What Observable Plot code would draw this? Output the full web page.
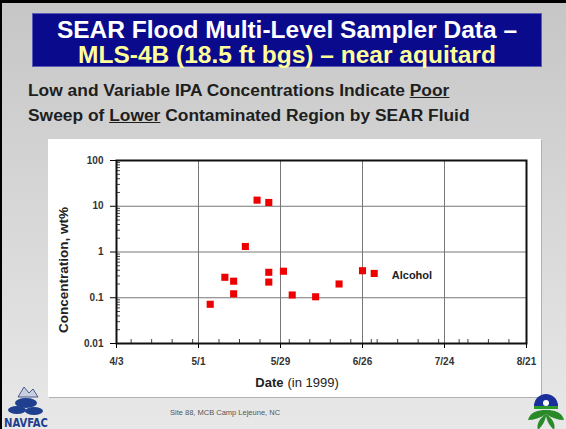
<!DOCTYPE html>
<html>
<head>
<meta charset="utf-8">
<script src="https://cdn.jsdelivr.net/npm/d3@7"></script>
<script src="https://cdn.jsdelivr.net/npm/@observablehq/plot@0.6"></script>
<style>
  html, body { margin: 0; padding: 0; }
  body { width: 566px; height: 429px; overflow: hidden; font-family: "Liberation Sans", Arial, sans-serif; }
  #slide { position: relative; width: 566px; height: 429px; box-sizing: border-box;
    border-top: 3px solid #000; border-left: 2px solid #000;
    background: linear-gradient(180deg, #c6c6c6 0%, #d4d4d4 40%, #e8e8e8 100%); }
  #banner { position: absolute; left: 30px; top: 10px; width: 510px; height: 54px; box-sizing: border-box;
    background: #0a0a8c; border: 1px solid #5a5ab8; text-align: center; }
  #banner div { font-weight: bold; font-size: 24.5px; line-height: 25px; white-space: nowrap; }
  #t1 { color: #ffffff; margin-top: 3px; }
  #t2 { color: #ffff99; }
  #sub { position: absolute; left: 26px; top: 75px; font-size: 17.4px; font-weight: bold; line-height: 25px; color: #1e1e1e; white-space: nowrap; }
  #panel { position: absolute; left: 46px; top: 136px; width: 493px; height: 258px; background: #fff;
    box-shadow: 1px 1px 0 #b0b0b0; }
  #footer { position: absolute; left: 168px; top: 405px; font-size: 7.5px; color: #555; }
  #navfac { position: absolute; left: 0px; top: 380px; }
  #epa { position: absolute; left: 522px; top: 389px; }
</style>
</head>
<body>
<div id="slide">
  <div id="banner">
    <div id="t1">SEAR Flood Multi-Level Sampler Data –</div>
    <div id="t2">MLS-4B (18.5 ft bgs) – near aquitard</div>
  </div>
  <div id="sub">Low and Variable IPA Concentrations Indicate <u>Poor</u><br>Sweep of <u>Lower</u> Contaminated Region by SEAR Fluid</div>
  <div id="panel"></div>
  <div id="footer">Site 88, MCB Camp Lejeune, NC</div>
  <svg id="navfac" width="48" height="46">
    <path d="M16,14 L22,4 L27,10 L31,6 L36,14 Z" fill="#c8d0e0" stroke="#4a5a8a" stroke-width="1"/>
    <ellipse cx="24" cy="20" rx="11" ry="5" fill="#1f3f8f"/>
    <ellipse cx="15" cy="27" rx="9" ry="4" fill="#1f3f8f"/>
    <ellipse cx="32" cy="28" rx="9" ry="4" fill="#1f3f8f"/>
    <text x="24" y="44" text-anchor="middle" font-family="'Liberation Sans Narrow', 'DejaVu Sans Condensed', sans-serif" font-weight="bold" font-size="12" fill="#1f3f8f" textLength="44" lengthAdjust="spacingAndGlyphs">NAVFAC</text>
  </svg>
  <svg id="epa" width="44" height="40">
    <path d="M10,14 A12,12 0 0 1 34,14 Z" fill="#1a2f9a"/>
    <circle cx="22" cy="11" r="3" fill="#fff"/>
    <rect x="10" y="14" width="24" height="3" fill="#2a9a2a"/>
    <path d="M22,18 C14,18 6,20 4,28 C10,28 16,26 22,22 Z" fill="#2a8a2a"/>
    <path d="M22,18 C30,18 38,20 40,28 C34,28 28,26 22,22 Z" fill="#2a8a2a"/>
    <path d="M22,22 C16,26 12,32 14,38 C18,34 21,30 22,24 Z" fill="#2a8a2a"/>
    <path d="M22,22 C28,26 32,32 30,38 C26,34 23,30 22,24 Z" fill="#2a8a2a"/>
  </svg>
</div>
<script>
// ---- data ----
const sampleDates = ["1999-05-05","1999-05-10","1999-05-13","1999-05-13","1999-05-17","1999-05-21","1999-05-25","1999-05-25","1999-05-25","1999-05-30","1999-06-02","1999-06-10","1999-06-18","1999-06-26","1999-06-30"];
const ipaConc = [0.072,0.28,0.23,0.122,1.32,13.6,12.1,0.36,0.22,0.38,0.115,0.105,0.20,0.39,0.34];
const xTickDates = ["1999-04-03","1999-05-01","1999-05-29","1999-06-26","1999-07-24","1999-08-21"];
const xTickLabels = ["4/3","5/1","5/29","6/26","7/24","8/21"];
const yTickValues = [0.01,0.1,1,10,100];
const yTickLabels = ["0.01","0.1","1","10","100"];
const seriesName = "Alcohol";
const seriesLabelDate = "1999-07-06";
const seriesLabelValue = 0.3;
const yTitle = "Concentration, wt%";
const xTitleBold = "Date";
const xTitleRest = "(in 1999)";

// ---- build ----
const parse = d3.utcParse("%Y-%m-%d");
const data = sampleDates.map((d, i) => ({date: parse(d), value: ipaConc[i]}));
const xTicks = xTickDates.map(parse);
const xMinor = d3.utcDay.every(7).range(xTicks[0], xTicks[xTicks.length - 1]).filter(d => !xTicks.some(t => +t === +d));
const yMinor = [];
for (let k = 0; k < yTickValues.length - 1; k++) for (let m = 2; m <= 9; m++) yMinor.push(yTickValues[k] * m);

const W = 493, H = 258, mL = 68, mR = 15, mT = 21, mB = 54;
const frameW = W - mL - mR, frameH = H - mT - mB;
const fam = "'Liberation Sans', Arial, sans-serif";

const chart = Plot.plot({
  width: W, height: H,
  marginLeft: mL, marginRight: mR, marginTop: mT, marginBottom: mB,
  style: {background: "transparent", fontFamily: fam, fontSize: "10px", overflow: "visible"},
  x: {type: "utc", domain: [xTicks[0], xTicks[xTicks.length - 1]]},
  y: {type: "log", domain: [yTickValues[0], yTickValues[yTickValues.length - 1]]},
  marks: [
    Plot.gridY(yTickValues.slice(1, -1), {stroke: "#777", strokeOpacity: 1}),
    Plot.gridX(xTicks.slice(1, -1), {stroke: "#777", strokeOpacity: 1}),
    Plot.tickX(xMinor, {x: d => d, insetTop: frameH - 4, stroke: "#444"}),
    Plot.tickY(yMinor, {y: d => d, insetRight: frameW - 4, stroke: "#444"}),
    Plot.axisX({ticks: xTicks, tickFormat: d => xTickLabels[xTicks.findIndex(t => +t === +d)], tickSize: 5, tickPadding: 9, fill: "#333", fontWeight: "bold", label: null}),
    Plot.axisY({ticks: yTickValues, tickFormat: d => yTickLabels[yTickValues.indexOf(d)], tickSize: 6, tickPadding: 7, fill: "#333", fontWeight: "bold", label: null}),
    Plot.frame({stroke: "#111", strokeWidth: 2}),
    Plot.dot(data, {x: "date", y: "value", symbol: "square", r: 4, fill: "#ee0000", stroke: "none"}),
    Plot.text([seriesName], {x: parse(seriesLabelDate), y: seriesLabelValue, text: d => d, textAnchor: "start", fontSize: 11, fontWeight: "bold", fill: "#222"}),
    Plot.text([yTitle], {frameAnchor: "left", dx: -53, dy: 18, rotate: -90, textAnchor: "middle", text: d => d, fontSize: 13.5, fontWeight: "bold", fill: "#222"}),
    Plot.text([xTitleBold], {frameAnchor: "bottom", dx: -38, dy: 43, text: d => d, textAnchor: "end", fontSize: 13, fontWeight: "bold", fill: "#222"}),
    Plot.text([xTitleRest], {frameAnchor: "bottom", dx: -34, dy: 43, text: d => d, textAnchor: "start", fontSize: 13, fill: "#222"})
  ]
});
chart.style.position = "absolute";
chart.style.left = "0px";
chart.style.top = "0px";
document.getElementById("panel").appendChild(chart);
</script>
</body>
</html>
